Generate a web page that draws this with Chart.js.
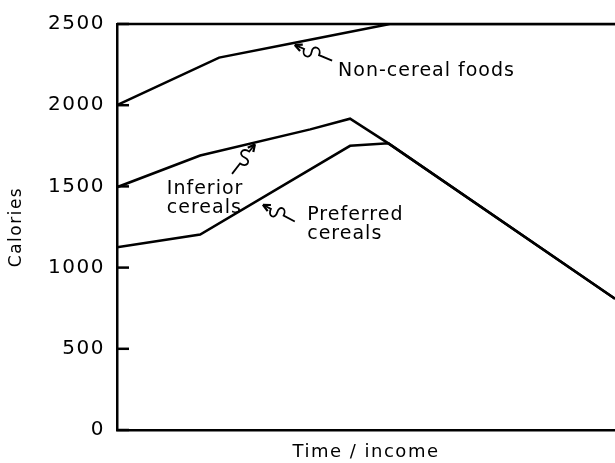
<!DOCTYPE html>
<html>
<head>
<meta charset="utf-8">
<script src="https://cdn.jsdelivr.net/npm/chart.js@4/dist/chart.umd.min.js"></script>
<style>
  html, body { margin: 0; padding: 0; background: #fff; }
</style>
</head>
<body>
<canvas id="calChart" width="615" height="463"></canvas>
<script>
// x is a 0-100 "time / income" position, y is calories
const nonCerealX = [0, 20.5, 35.7, 54.8, 100];
const nonCerealY = [2000, 2293, 2384, 2500, 2500];
const inferiorX = [0, 16.7, 38.8, 46.8, 54.5, 100];
const inferiorY = [1495, 1690, 1851, 1917, 1765, 808];
const preferredX = [0, 16.7, 46.8, 54.5, 100];
const preferredY = [1125, 1204, 1750, 1765, 808];
const yTicks = [0, 500, 1000, 1500, 2000, 2500];

// annotation text, anchored in data units
const labelLines = [
    { lines: ["Non-cereal foods"], x: 44.4, y: 2182 },
    { lines: ["Inferior", "cereals"], x: 10.0, y: 1455 },
    { lines: ["Preferred", "cereals"], x: 38.2, y: 1296 }
];
// squiggle arrows: tip on the line, tail near the label
const arrowTips = [[35.7, 2371], [27.7, 1760], [29.3, 1387]];
const arrowTails = [[43.2, 2274], [23.1, 1577], [35.7, 1284]];

function toPoints(xs, ys) {
    return xs.map((x, i) => ({ x: x, y: ys[i] }));
}

const ink = "#000";

const extrasPlugin = {
    id: "extras",
    beforeDraw(chart) {
        // wide lettering like the original stencil text
        chart.ctx.letterSpacing = "1.5px";
    },
    afterDraw(chart) {
        const ctx = chart.ctx;
        const area = chart.chartArea;
        const xs = chart.scales.x;
        const ys = chart.scales.y;
        ctx.save();
        ctx.strokeStyle = ink;
        ctx.fillStyle = ink;
        ctx.lineWidth = 2.5;

        // top frame line
        ctx.beginPath();
        ctx.moveTo(area.left, area.top);
        ctx.lineTo(area.right, area.top);
        ctx.stroke();

        // inward tick marks
        yTicks.forEach(v => {
            const py = ys.getPixelForValue(v);
            ctx.beginPath();
            ctx.moveTo(area.left, py);
            ctx.lineTo(area.left + 12, py);
            ctx.stroke();
        });

        // labels
        ctx.font = "19px 'DejaVu Sans'";
        ctx.letterSpacing = "1px";
        ctx.textBaseline = "alphabetic";
        labelLines.forEach(lab => {
            const px = xs.getPixelForValue(lab.x);
            const py = ys.getPixelForValue(lab.y);
            lab.lines.forEach((t, i) => ctx.fillText(t, px, py + i * 19));
        });
        ctx.letterSpacing = "0px";

        // arrows
        ctx.lineWidth = 1.8;
        arrowTips.forEach((tip, i) => {
            const tx = xs.getPixelForValue(tip[0]), ty = ys.getPixelForValue(tip[1]);
            const ex = xs.getPixelForValue(arrowTails[i][0]), ey = ys.getPixelForValue(arrowTails[i][1]);
            const L = Math.hypot(ex - tx, ey - ty);
            const ux = (ex - tx) / L, uy = (ey - ty) / L;
            const vx = -uy, vy = ux;
            const at = (a, b) => [tx + ux * a * L + vx * b, ty + uy * a * L + vy * b];
            ctx.beginPath();
            ctx.moveTo(tx, ty);
            let p = at(0.25, 0);
            ctx.lineTo(p[0], p[1]);
            const c1 = at(0.25, 8), c2 = at(0.5, 8), m = at(0.45, 0);
            ctx.bezierCurveTo(c1[0], c1[1], c2[0], c2[1], m[0], m[1]);
            const c3 = at(0.4, -8), c4 = at(0.65, -8), e2 = at(0.65, 0);
            ctx.bezierCurveTo(c3[0], c3[1], c4[0], c4[1], e2[0], e2[1]);
            ctx.lineTo(ex, ey);
            ctx.stroke();
            // arrow head
            const ang = Math.atan2(uy, ux);
            ctx.lineWidth = 2.2;
            ctx.beginPath();
            [0.45, -0.45].forEach(d => {
                ctx.moveTo(tx, ty);
                ctx.lineTo(tx + Math.cos(ang + d) * 8, ty + Math.sin(ang + d) * 8);
            });
            ctx.stroke();
            ctx.lineWidth = 1.8;
        });
        ctx.restore();
    }
};

const lineStyle = {
    borderColor: ink,
    borderWidth: 2.5,
    pointRadius: 0,
    tension: 0,
    fill: false
};

new Chart(document.getElementById("calChart"), {
    type: "line",
    data: {
        datasets: [
            Object.assign({ label: "Non-cereal foods", data: toPoints(nonCerealX, nonCerealY) }, lineStyle),
            Object.assign({ label: "Inferior cereals", data: toPoints(inferiorX, inferiorY) }, lineStyle),
            Object.assign({ label: "Preferred cereals", data: toPoints(preferredX, preferredY) }, lineStyle)
        ]
    },
    options: {
        responsive: false,
        animation: false,
        layout: { padding: { top: 21, right: 0, bottom: 0, left: 0 } },
        plugins: { legend: { display: false }, tooltip: { enabled: false } },
        scales: {
            x: {
                type: "linear",
                min: 0,
                max: 100,
                ticks: { display: false },
                grid: { display: false },
                border: { display: true, color: ink, width: 2.5 },
                title: {
                    display: true,
                    text: "Time / income",
                    color: ink,
                    font: { family: "'DejaVu Sans'", size: 18 },
                    padding: { top: 0, bottom: 0 }
                },
                afterFit: s => { s.height = 33; }
            },
            y: {
                min: 0,
                max: 2500,
                afterBuildTicks: s => { s.ticks = yTicks.map(v => ({ value: v })); },
                ticks: {
                    color: ink,
                    padding: 12,
                    font: { family: "'DejaVu Sans'", size: 20 },
                    callback: v => String(v)
                },
                grid: { display: false, drawTicks: false },
                border: { display: true, color: ink, width: 2.5 },
                title: {
                    display: true,
                    text: "Calories",
                    color: ink,
                    font: { family: "'DejaVu Sans'", size: 17 },
                    padding: { top: 6, bottom: 0 }
                },
                afterFit: s => { s.width = 117; }
            }
        }
    },
    plugins: [extrasPlugin]
});
</script>
</body>
</html>
